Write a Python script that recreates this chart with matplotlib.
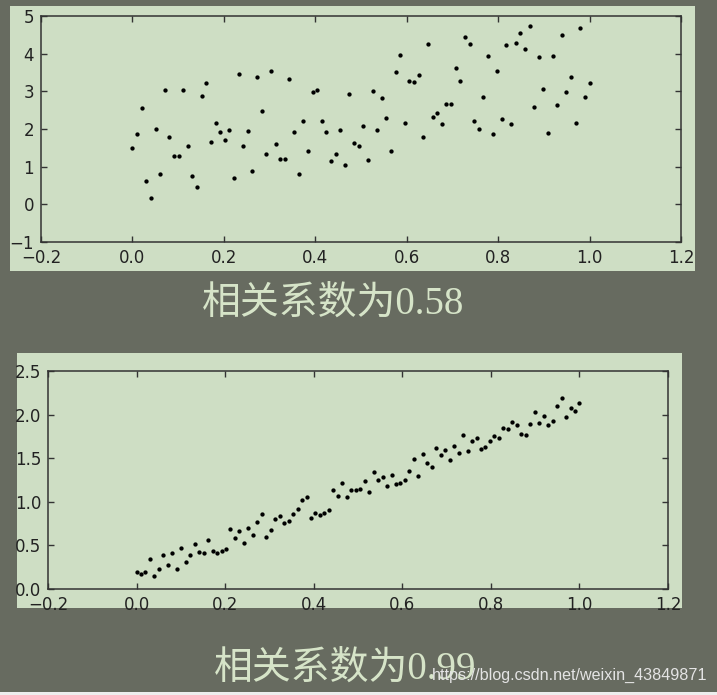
import matplotlib
matplotlib.use('Agg')
import matplotlib.pyplot as plt
import numpy as np
from matplotlib.patches import Rectangle

# colours
bg_col = '#676b60'
panel_col = '#cedec4'
text_col = '#d6e4c8'

# 100 evenly spaced x positions in both plots
x = np.linspace(0, 1, 100)

# top plot, r = 0.58
y_low = [1.49, 1.86, 2.55, 0.61, 0.17, 2.00, 0.80, 3.03, 1.79, 1.27,
         1.29, 3.03, 1.55, 0.75, 0.45, 2.88, 3.21, 1.65, 2.15, 1.91,
         1.70, 1.98, 0.70, 3.46, 1.55, 1.95, 0.88, 3.38, 2.47, 1.33,
         3.55, 1.60, 1.21, 1.21, 3.32, 1.93, 0.80, 2.20, 1.41, 2.98,
         3.04, 2.21, 1.93, 1.14, 1.33, 1.98, 1.05, 2.92, 1.63, 1.54,
         2.07, 1.18, 3.01, 1.97, 2.82, 2.30, 1.41, 3.52, 3.96, 2.17,
         3.28, 3.24, 3.43, 1.79, 4.26, 2.31, 2.43, 2.12, 2.66, 2.66,
         3.62, 3.27, 4.43, 4.26, 2.21, 2.00, 2.84, 3.94, 1.88, 3.55,
         2.27, 4.22, 2.12, 4.28, 4.54, 4.13, 4.73, 2.58, 3.90, 3.05,
         1.90, 3.95, 2.63, 4.50, 2.97, 3.37, 2.16, 4.68, 2.84, 3.22]

# bottom plot, r = 0.99
y_high = [0.20, 0.175, 0.19, 0.34, 0.15, 0.225, 0.39, 0.28, 0.415, 0.23,
          0.47, 0.305, 0.39, 0.52, 0.43, 0.41, 0.56, 0.44, 0.415, 0.44,
          0.46, 0.69, 0.59, 0.67, 0.53, 0.705, 0.625, 0.77, 0.865, 0.60,
          0.68, 0.80, 0.84, 0.76, 0.78, 0.86, 0.915, 1.02, 1.06, 0.81,
          0.87, 0.845, 0.87, 0.91, 1.13, 1.07, 1.21, 1.05, 1.14, 1.14,
          1.15, 1.24, 1.11, 1.345, 1.25, 1.29, 1.185, 1.31, 1.20, 1.21,
          1.245, 1.35, 1.49, 1.30, 1.55, 1.44, 1.40, 1.615, 1.54, 1.59,
          1.48, 1.64, 1.56, 1.765, 1.58, 1.70, 1.735, 1.61, 1.63, 1.70,
          1.76, 1.73, 1.85, 1.84, 1.91, 1.875, 1.775, 1.77, 1.89, 2.03,
          1.90, 1.98, 1.885, 1.93, 2.10, 2.195, 1.97, 2.07, 2.04, 2.13]

xticks = [-0.2, 0.0, 0.2, 0.4, 0.6, 0.8, 1.0, 1.2]
yticks_low = [-1, 0, 1, 2, 3, 4, 5]
yticks_high = [0.0, 0.5, 1.0, 1.5, 2.0, 2.5]

captions = ['相关系数为0.58', '相关系数为0.99']

fig = plt.figure(figsize=(7.17, 6.95), dpi=100)
fig.patch.set_facecolor(bg_col)

# light panels behind each plot
fig.patches.append(Rectangle((0.014, 0.610), 0.955, 0.381, transform=fig.transFigure,
                             facecolor=panel_col, edgecolor='none', zorder=-5))
fig.patches.append(Rectangle((0.024, 0.125), 0.9275, 0.367, transform=fig.transFigure,
                             facecolor=panel_col, edgecolor='none', zorder=-5))
# thin light strip at the very bottom
fig.patches.append(Rectangle((0, 0), 1, 0.005, transform=fig.transFigure,
                             facecolor='#eeeeee', edgecolor='none', zorder=-5))

ax1 = fig.add_axes([0.0572, 0.6518, 0.8926, 0.3252])
ax2 = fig.add_axes([0.0669, 0.1525, 0.8648, 0.3137])


def style_axes(ax, yticks, ylabels):
    ax.set_facecolor(panel_col)
    ax.set_xlim(-0.2, 1.2)
    ax.set_xticks(xticks)
    ax.set_xticklabels(['%.1f' % t if t >= 0 else '\u22120.2' for t in xticks])
    ax.set_ylim(yticks[0], yticks[-1])
    ax.set_yticks(yticks)
    ax.set_yticklabels(ylabels)
    ax.tick_params(direction='in', top=True, right=True, length=4, width=1,
                   labelsize=12, labelcolor='#222222', color='#333333', pad=5)
    for sp in ax.spines.values():
        sp.set_linewidth(1.1)
        sp.set_color('#333333')


ax1.plot(x, y_low, 'o', color='black', markersize=3.1, markeredgewidth=0)
style_axes(ax1, yticks_low, ['\u22121' if t < 0 else str(t) for t in yticks_low])

ax2.plot(x, y_high, 'o', color='black', markersize=3.1, markeredgewidth=0)
style_axes(ax2, yticks_high, ['%.1f' % t for t in yticks_high])

cap_font = ['Liberation Serif', 'Noto Sans CJK SC']
fig.text(0.281, 0.561, captions[0], fontsize=28, color=text_col,
         family=cap_font, ha='left', va='center')
fig.text(0.299, 0.036, captions[1], fontsize=28, color=text_col,
         family=cap_font, ha='left', va='center')

fig.text(0.986, 0.028, 'https://blog.csdn.net/weixin_43849871', fontsize=11.6,
         color='#e4e4e4', family='Liberation Sans', ha='right', va='center')

fig.savefig('out.png', dpi=100, facecolor=fig.get_facecolor())
